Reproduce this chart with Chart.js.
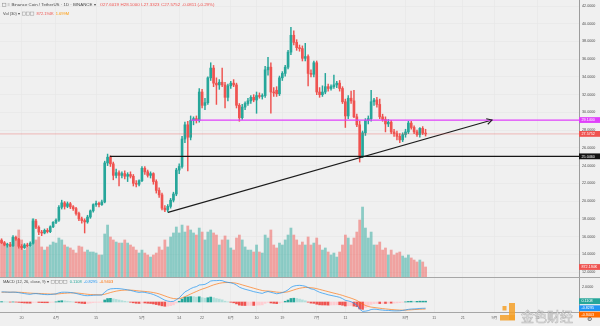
<!DOCTYPE html>
<html>
<head>
<meta charset="utf-8">
<script src="https://cdn.jsdelivr.net/npm/chart.js@4/dist/chart.umd.min.js"></script>
<style>
  html, body { margin: 0; padding: 0; background: #f0f0f0; }
  canvas { display: block; }
</style>
</head>
<body>
<canvas id="c" width="600" height="326"></canvas>
<script>
// BNB / USDT daily candles, 2019-03-13 .. 2019-08-08 (day 0 = 2019-04-01)
const firstDay = -19;

const opens = [
  15.55,15.30,15.05,15.10,14.95,15.90,15.70,14.90,14.75,15.05,
  14.95,15.25,17.75,17.05,16.50,16.40,16.70,16.55,17.10,17.60,
  17.85,19.30,19.80,19.40,19.70,19.35,19.15,18.60,18.00,17.80,
  17.65,18.20,18.90,19.60,19.75,19.60,19.90,24.30,24.95,24.20,
  22.90,23.20,22.90,23.10,22.80,23.00,22.80,22.00,21.90,22.30,
  23.70,23.30,22.90,23.10,22.20,21.20,20.70,19.20,19.00,19.40,
  20.10,20.80,23.50,23.90,27.00,28.60,27.20,29.10,29.30,29.10,
  32.30,30.80,31.10,33.90,35.00,33.30,33.10,33.40,33.10,31.70,
  33.00,33.30,33.10,30.80,29.40,30.60,31.00,31.30,31.70,31.40,
  31.90,31.80,31.90,34.80,35.10,32.30,32.50,32.10,33.90,34.40,
  35.10,36.80,38.70,37.90,37.30,37.20,36.10,36.30,34.40,34.30,
  35.60,32.30,32.00,32.30,32.90,32.70,32.90,33.10,33.30,32.70,
  31.20,29.60,31.60,31.30,29.50,28.60,25.10,27.70,29.10,29.30,
  31.20,31.40,30.90,29.50,29.20,28.70,28.90,27.80,27.60,27.30,
  26.90,27.50,27.80,28.80,28.30,27.80,27.50,28.20,27.6019
];
const highs = [
  15.75,15.45,15.25,15.35,16.10,16.05,15.80,15.10,15.20,15.25,
  15.40,18.00,17.95,17.20,16.70,16.85,16.90,17.20,17.70,18.00,
  19.50,20.10,19.95,19.90,19.85,19.50,19.30,18.75,18.20,18.00,
  18.40,19.00,19.70,20.00,19.90,20.10,24.50,25.30,25.10,24.40,
  23.60,23.40,23.30,23.40,23.20,23.30,23.00,22.30,22.40,23.90,
  23.90,23.50,23.30,23.20,22.40,21.50,20.90,19.50,19.60,20.30,
  21.00,23.70,24.20,27.30,28.90,29.00,29.60,29.50,29.60,32.70,
  32.60,31.60,34.00,35.60,35.30,33.90,33.70,35.00,33.40,33.20,
  33.50,33.70,33.30,31.00,30.90,31.20,31.60,31.90,32.00,32.30,
  32.20,32.10,35.20,36.20,35.60,32.80,32.90,34.10,34.60,35.30,
  37.00,39.60,39.20,38.20,37.60,37.50,37.80,36.50,34.80,35.80,
  35.80,32.80,33.00,34.40,33.20,33.10,34.20,33.50,33.60,32.90,
  31.50,31.90,32.40,32.50,29.80,29.00,27.90,29.30,29.60,32.50,
  31.60,31.70,31.50,29.80,29.50,29.20,29.10,28.10,27.90,27.60,
  27.70,28.10,29.00,29.00,28.50,28.00,28.30,28.40,28.10
];
const lows = [
  15.20,14.95,14.80,14.85,14.90,15.55,14.70,14.55,14.65,14.85,
  14.90,15.15,16.90,16.20,16.10,16.30,16.40,16.45,17.00,17.45,
  17.70,19.10,19.10,19.25,19.15,18.95,18.40,17.80,17.50,16.40,
  17.50,18.05,18.75,19.40,19.35,19.50,19.80,24.00,23.90,22.40,
  22.60,21.70,22.60,22.50,22.20,22.60,21.70,21.60,21.70,22.20,
  23.00,22.70,22.60,21.90,20.90,20.40,19.00,18.80,18.75,19.20,
  19.90,20.60,23.10,23.70,26.60,23.40,26.90,28.60,28.80,28.90,
  30.50,30.30,30.90,33.60,32.90,30.90,32.60,32.90,30.50,31.30,
  32.70,32.90,30.50,29.00,29.20,30.30,30.80,31.00,31.20,29.90,
  31.60,31.50,31.70,34.20,29.90,31.80,31.80,31.90,33.60,34.10,
  34.90,36.50,37.60,37.00,36.90,35.80,35.80,33.00,34.00,34.00,
  32.00,31.70,31.80,32.10,32.40,32.50,32.70,32.80,32.40,31.00,
  28.30,29.30,31.00,29.40,28.40,24.40,24.90,27.40,28.70,29.00,
  30.80,30.60,29.30,29.00,27.80,28.40,27.60,27.30,26.90,26.60,
  26.70,27.20,27.60,28.10,27.60,27.30,27.20,27.50,27.3323
];
const closes = [
  15.30,15.05,15.10,14.95,15.90,15.70,14.90,14.75,15.05,14.95,
  15.25,17.75,17.05,16.50,16.40,16.70,16.55,17.10,17.60,17.85,
  19.30,19.80,19.40,19.70,19.35,19.15,18.60,18.00,17.80,17.65,
  18.20,18.90,19.60,19.75,19.60,19.90,24.30,24.95,24.20,22.90,
  23.20,22.90,23.10,22.80,23.00,22.80,22.00,21.90,22.30,23.70,
  23.30,22.90,23.10,22.20,21.20,20.70,19.20,19.00,19.40,20.10,
  20.80,23.50,23.90,27.00,28.60,27.20,29.10,29.30,29.10,32.30,
  30.80,31.10,33.90,35.00,33.30,33.10,33.40,33.10,31.70,33.00,
  33.30,33.10,30.80,29.40,30.60,31.00,31.30,31.70,31.40,31.90,
  31.80,31.90,34.80,35.10,32.30,32.20,32.10,33.90,34.40,35.10,
  36.80,38.70,37.90,37.30,37.20,36.10,36.30,34.40,34.30,35.60,
  32.30,32.00,32.30,32.90,32.70,32.90,33.10,33.30,32.70,31.20,
  29.60,31.60,31.30,29.50,28.60,25.10,27.70,29.10,29.30,31.20,
  31.40,30.90,29.50,29.20,28.70,28.90,27.80,27.60,27.30,26.90,
  27.50,27.80,28.80,28.30,27.80,27.50,28.20,27.6563,27.5752
];
// volume, thousands of BNB
const volumes = [
  3230,2960,2790,2700,3490,3230,4100,3230,2350,2620,
  2620,5060,3230,3490,2620,2350,2620,2790,3050,2960,
  3400,3230,2790,2620,2530,2350,2090,2700,2620,2180,
  2350,2180,2180,2090,1920,1920,3750,4530,3490,3230,
  3050,2960,2960,3230,2960,2790,2620,2350,2090,2350,
  2090,1920,1740,1920,2090,2620,2350,3230,2620,3490,
  3840,4360,3840,4530,3920,4450,4100,3840,3660,4270,
  3920,3230,3920,4100,3840,3660,2790,3230,3580,3230,
  2530,2350,3400,3660,3230,2620,2350,2350,2180,2790,
  2180,2090,3660,3400,4100,2790,2530,2960,2790,3230,
  3660,4270,3660,3230,2790,3050,2790,3490,2790,2960,
  3400,2790,2350,2530,2180,1920,2090,1740,2180,2790,
  3660,3400,2790,3400,3920,4970,6100,4270,3400,3920,
  2790,2790,3050,2350,2530,1920,2350,1920,2090,2180,
  1830,1660,1920,1660,1480,1310,1480,1310,872.194
];
// MACD (12, 26, close, 9)
const macdLine = [
  1.35,1.34,1.32,1.30,1.32,1.30,1.25,1.18,1.12,1.06,
  1.02,1.10,1.12,1.08,1.03,1.00,0.98,1.00,1.04,1.08,
  1.22,1.30,1.31,1.30,1.27,1.22,1.14,1.04,0.95,0.86,
  0.84,0.86,0.90,0.92,0.92,0.94,1.30,1.60,1.75,1.78,
  1.80,1.78,1.74,1.68,1.62,1.55,1.45,1.35,1.28,1.32,
  1.28,1.20,1.12,1.00,0.84,0.66,0.44,0.24,0.12,0.06,
  0.08,0.30,0.55,0.95,1.35,1.55,1.78,1.95,2.05,2.27,
  2.30,2.35,2.55,2.80,2.85,2.85,2.88,2.85,2.70,2.62,
  2.56,2.45,2.25,1.98,1.82,1.70,1.60,1.50,1.38,1.30,
  1.22,1.15,1.30,1.40,1.30,1.20,1.10,1.15,1.25,1.40,
  1.62,1.95,2.12,2.20,2.22,2.18,2.10,1.92,1.75,1.68,
  1.48,1.30,1.18,1.08,0.96,0.88,0.80,0.72,0.62,0.45,
  0.22,0.14,0.04,-0.18,-0.42,-0.95,-1.25,-1.22,-1.15,-1.00,
  -0.95,-0.98,-1.04,-1.08,-1.12,-1.12,-1.16,-1.18,-1.18,-1.17,
  -1.12,-1.06,-0.98,-0.94,-0.92,-0.90,-0.86,-0.84,-0.8295
];
const signalLine = [
  1.30,1.31,1.31,1.31,1.31,1.31,1.30,1.28,1.25,1.21,
  1.18,1.16,1.15,1.14,1.12,1.10,1.08,1.06,1.06,1.06,
  1.09,1.13,1.16,1.19,1.21,1.21,1.20,1.17,1.13,1.08,
  1.03,1.00,0.98,0.97,0.96,0.96,1.03,1.14,1.26,1.36,
  1.45,1.51,1.56,1.58,1.59,1.58,1.56,1.52,1.47,1.44,
  1.41,1.37,1.32,1.26,1.18,1.08,0.95,0.81,0.67,0.55,
  0.46,0.43,0.45,0.55,0.71,0.88,1.06,1.24,1.40,1.57,
  1.72,1.84,1.98,2.14,2.28,2.39,2.49,2.56,2.59,2.60,
  2.59,2.56,2.50,2.40,2.28,2.17,2.06,1.95,1.84,1.73,
  1.63,1.53,1.48,1.46,1.43,1.38,1.32,1.29,1.28,1.30,
  1.36,1.48,1.61,1.73,1.83,1.90,1.94,1.94,1.90,1.86,
  1.78,1.68,1.58,1.48,1.38,1.28,1.18,1.09,0.99,0.88,
  0.75,0.63,0.51,0.37,0.21,-0.02,-0.27,-0.46,-0.60,-0.68,
  -0.73,-0.78,-0.83,-0.88,-0.92,-0.96,-1.00,-1.03,-1.06,-1.08,
  -1.09,-1.08,-1.06,-1.04,-1.01,-0.99,-0.97,-0.95,-0.9403
];
const macdHist = [
  0.05,0.03,0.01,-0.01,0.01,-0.01,-0.05,-0.10,-0.13,-0.15,
  -0.16,-0.06,-0.03,-0.06,-0.09,-0.10,-0.10,-0.06,-0.02,0.02,
  0.13,0.17,0.15,0.11,0.06,0.01,-0.06,-0.13,-0.18,-0.22,
  -0.19,-0.14,-0.08,-0.05,-0.04,-0.02,0.27,0.46,0.49,0.42,
  0.35,0.27,0.18,0.10,0.03,-0.03,-0.11,-0.17,-0.19,-0.12,
  -0.13,-0.17,-0.20,-0.26,-0.34,-0.42,-0.51,-0.57,-0.55,-0.49,
  -0.38,-0.13,0.10,0.40,0.64,0.67,0.72,0.71,0.65,0.70,
  0.58,0.51,0.57,0.66,0.57,0.46,0.39,0.29,0.11,0.02,
  -0.03,-0.11,-0.25,-0.42,-0.46,-0.47,-0.46,-0.45,-0.46,-0.43,
  -0.41,-0.38,-0.18,-0.06,-0.13,-0.18,-0.22,-0.14,-0.03,0.10,
  0.26,0.47,0.51,0.47,0.39,0.28,0.16,-0.02,-0.15,-0.18,
  -0.30,-0.38,-0.40,-0.40,-0.42,-0.40,-0.38,-0.37,-0.37,-0.43,
  -0.53,-0.49,-0.47,-0.55,-0.63,-0.93,-0.98,-0.76,-0.55,-0.32,
  -0.22,-0.20,-0.21,-0.20,-0.20,-0.16,-0.16,-0.15,-0.12,-0.09,
  -0.03,0.02,0.08,0.10,0.09,0.09,0.11,0.11,0.1108
];

// time axis labels (day offsets from 2019-04-01)
const tickDays   = [-12, 0, 14, 30, 43, 51, 61, 70, 79, 91, 101, 122, 132, 142, 153, 168];
const tickLabels = ['20', '4月', '15', '5月', '14', '22', '6月', '10', '19', '7月', '11', '8月', '11', '21', '9月', '16'];
const priceTicks = [12, 14, 16, 18, 20, 22, 24, 26, 28, 30, 32, 34, 36, 38, 40, 42];
const macdTicks  = [2];

// drawn levels and trend line (day, price)
const supportLine    = { from: 18.8, price: 25.046 };
const resistanceLine = { from: 47, price: 29.14 };
const trendStart = { day: 39.1, price: 18.72 };
const trendEnd   = { day: 152.2, price: 29.14 };
const volumeMA = '1.699M';

// visible ranges of the panes
const X_MIN = -19.546, X_MAX = 182.55;
const Y_MIN = 7.49, Y_MAX = 42.677;
const V_MIN = -3053, V_MAX = 24159;
const M_MIN = -1.333, M_MAX = 40.267;

const BG = '#f0f0f0';
const UP = '#26a69a', DOWN = '#ef5350';
const FONT = "'Liberation Sans', 'Noto Sans CJK SC', Arial, sans-serif";

const n = opens.length;
const last = n - 1;
const days = opens.map((_, i) => firstDay + i);
const rising = closes.map((c, i) => c >= opens[i]);
const candleColor = rising.map(u => u ? UP : DOWN);
const volumeColor = rising.map(u => u ? 'rgba(38,166,154,0.5)' : 'rgba(239,83,80,0.5)');
const histColor = macdHist.map((h, i) => {
  const prev = i > 0 ? macdHist[i - 1] : h;
  if (h >= 0) return h >= prev ? '#26a69a' : '#b2dfdb';
  return h <= prev ? '#ef5350' : '#ffcdd2';
});

const tagFont = '3.7px ' + FONT;

function drawTag(ctx, y, text, bg, fg) {
  ctx.fillStyle = bg;
  ctx.fillRect(579, y - 2.9, 21, 5.8);
  ctx.fillStyle = fg;
  ctx.font = tagFont;
  ctx.textAlign = 'left';
  ctx.textBaseline = 'middle';
  ctx.fillText(text, 581.5, y + 0.2);
}

function drawRun(ctx, x, y, parts, size) {
  ctx.font = size + 'px ' + FONT;
  ctx.textBaseline = 'middle';
  ctx.textAlign = 'left';
  for (const [text, color, gap] of parts) {
    ctx.fillStyle = color;
    ctx.fillText(text, x, y);
    x += ctx.measureText(text).width + (gap || 0);
  }
  return x;
}

function boxes(ctx, x, y, count) {
  ctx.strokeStyle = '#9a9a9a';
  ctx.lineWidth = 0.5;
  for (let k = 0; k < count; k++) {
    ctx.strokeRect(x + k * 4.2 + 0.25, y - 1.6, 3.2, 3.2);
  }
  return x + count * 4.2;
}

const panes = {
  id: 'panes',
  beforeDraw(chart) {
    const ctx = chart.ctx;
    ctx.save();
    ctx.fillStyle = BG;
    ctx.fillRect(0, 0, chart.width, chart.height);
    ctx.restore();
  },
  afterDraw(chart) {
    const ctx = chart.ctx;
    const sy = chart.scales.y, sv = chart.scales.yv, sm = chart.scales.ym;
    ctx.save();

    // arrow head at the end of the trend line
    const meta = chart.getDatasetMeta(chart.data.datasets.findIndex(d => d.label === 'trend'));
    const p0 = meta.data[0], p1 = meta.data[1];
    const a = Math.atan2(p1.y - p0.y, p1.x - p0.x);
    ctx.strokeStyle = '#1c1c1c';
    ctx.lineWidth = 1.1;
    ctx.beginPath();
    ctx.moveTo(p1.x - 6 * Math.cos(a - 0.5), p1.y - 6 * Math.sin(a - 0.5));
    ctx.lineTo(p1.x, p1.y);
    ctx.lineTo(p1.x - 6 * Math.cos(a + 0.5), p1.y - 6 * Math.sin(a + 0.5));
    ctx.stroke();

    // pane separator
    const sepY = Math.round(sv.getPixelForValue(0)) + 0.5;
    ctx.strokeStyle = '#a6a6a6';
    ctx.lineWidth = 1;
    ctx.beginPath();
    ctx.moveTo(0, sepY);
    ctx.lineTo(600, sepY);
    ctx.stroke();

    // MACD scale labels
    ctx.fillStyle = '#4d4d4d';
    ctx.font = tagFont;
    ctx.textBaseline = 'middle';
    ctx.textAlign = 'left';
    for (const t of macdTicks) ctx.fillText(t.toFixed(4), 582, sm.getPixelForValue(t));

    // price axis tags
    drawTag(ctx, sy.getPixelForValue(resistanceLine.price), resistanceLine.price.toFixed(4), '#e040fb', '#ffffff');
    drawTag(ctx, sy.getPixelForValue(closes[last]), closes[last].toFixed(4), DOWN, '#ffffff');
    drawTag(ctx, sy.getPixelForValue(supportLine.price), supportLine.price.toFixed(4), '#131313', '#ffffff');
    drawTag(ctx, sv.getPixelForValue(volumes[last]), volumes[last].toFixed(3) + 'K', DOWN, '#ffffff');

    // MACD tags, pushed apart when they collide
    const mtags = [
      [macdHist[last], '#26a69a'],
      [macdLine[last], '#2196f3'],
      [signalLine[last], '#ff6d00']
    ];
    let prevY = -100;
    for (const [v, col] of mtags) {
      let y = sm.getPixelForValue(v);
      if (y < prevY + 6.4) y = prevY + 6.4;
      drawTag(ctx, y, v.toFixed(4), col, '#ffffff');
      prevY = y;
    }

    // header lines
    const chg = closes[last] - closes[last - 1];
    const pct = chg / closes[last - 1] * 100;
    ctx.strokeStyle = '#8a8a8a';
    ctx.lineWidth = 0.5;
    ctx.strokeRect(2.5, 3.2, 3.4, 3.4);
    let x = drawRun(ctx, 7.5, 5.2, [['≡', '#7a7a7a', 1.4]], 4.4);
    x = drawRun(ctx, x, 5.2, [['Binance Coin / TetherUS · 1D · BINANCE', '#4a4a4a', 1.2], ['▾', '#4a4a4a', 4]], 4.4);
    drawRun(ctx, x, 5.2, [
      ['O' + opens[last].toFixed(4), DOWN, 1.6],
      ['H' + highs[last].toFixed(4), DOWN, 1.6],
      ['L' + lows[last].toFixed(4), DOWN, 1.6],
      ['C' + closes[last].toFixed(4), DOWN, 1.6],
      [chg.toFixed(4) + ' (' + pct.toFixed(2) + '%)', DOWN, 0]
    ], 4.4);

    x = drawRun(ctx, 3, 13.6, [['Vol (30)', '#4a4a4a', 1.2], ['▾', '#4a4a4a', 2]], 4.0);
    x = boxes(ctx, x, 13.6, 3) + 2;
    drawRun(ctx, x, 13.6, [[volumes[last].toFixed(3) + 'K', DOWN, 2], [volumeMA, '#ff9800', 0]], 4.0);

    const my = sepY + 4.5;
    x = drawRun(ctx, 3, my, [['MACD (12, 26, close, 9)', '#4a4a4a', 1.2], ['▾', '#4a4a4a', 2]], 4.0);
    x = boxes(ctx, x, my, 4) + 2;
    drawRun(ctx, x, my, [
      [macdHist[last].toFixed(4), '#26a69a', 2.2],
      [macdLine[last].toFixed(4), '#2196f3', 2.2],
      [signalLine[last].toFixed(4), '#ff6d00', 0]
    ], 4.0);

    // watermark
    ctx.fillStyle = 'rgba(245,160,40,0.85)';
    ctx.fillRect(509, 303, 6, 17);
    ctx.fillRect(500, 315, 15, 5.5);
    ctx.fillRect(502.5, 306, 4, 4.5);
    ctx.font = '13px "Noto Sans CJK SC"';
    ctx.textBaseline = 'alphabetic';
    ctx.textAlign = 'left';
    ctx.lineWidth = 0.7;
    ctx.strokeStyle = 'rgba(150,150,150,0.6)';
    ctx.fillStyle = 'rgba(255,255,255,0.8)';
    ctx.fillText('金色财经', 521, 321);
    ctx.strokeText('金色财经', 521, 321);

    // settings glyph in the corner
    ctx.fillStyle = '#555555';
    ctx.font = '6px "DejaVu Sans"';
    ctx.textBaseline = 'middle';
    ctx.fillText('⚙', 587, 319.5);

    ctx.restore();
  }
};

const xy = arr => days.map((d, i) => ({ x: d, y: arr[i] }));

new Chart(document.getElementById('c'), {
  type: 'bar',
  data: {
    datasets: [
      {
        label: 'last', type: 'line', yAxisID: 'y', order: 1,
        data: [{ x: X_MIN, y: closes[last] }, { x: X_MAX, y: closes[last] }],
        borderColor: 'rgba(239,83,80,0.45)', borderWidth: 0.8, pointRadius: 0
      },
      {
        label: 'support', type: 'line', yAxisID: 'y', order: 1,
        data: [{ x: supportLine.from, y: supportLine.price }, { x: X_MAX, y: supportLine.price }],
        borderColor: '#161616', borderWidth: 1.2, pointRadius: 0
      },
      {
        label: 'resistance', type: 'line', yAxisID: 'y', order: 1,
        data: [{ x: resistanceLine.from, y: resistanceLine.price }, { x: X_MAX, y: resistanceLine.price }],
        borderColor: '#e040fb', borderWidth: 1.2, pointRadius: 0
      },
      {
        label: 'trend', type: 'line', yAxisID: 'y', order: 1,
        data: [{ x: trendStart.day, y: trendStart.price }, { x: trendEnd.day, y: trendEnd.price }],
        borderColor: '#1c1c1c', borderWidth: 1.2, pointRadius: 0
      },
      {
        label: 'body', yAxisID: 'y', order: 2, grouped: false,
        data: days.map((d, i) => ({ x: d, y: [opens[i], closes[i]] })),
        backgroundColor: candleColor, barThickness: 2, minBarLength: 0.8, borderWidth: 0
      },
      {
        label: 'wick', yAxisID: 'y', order: 3, grouped: false,
        data: days.map((d, i) => ({ x: d, y: [lows[i], highs[i]] })),
        backgroundColor: candleColor, barThickness: 0.8, borderWidth: 0
      },
      {
        label: 'macd', type: 'line', yAxisID: 'ym', order: 5,
        data: xy(macdLine), borderColor: 'rgba(33,150,243,0.8)', borderWidth: 0.9, pointRadius: 0
      },
      {
        label: 'signal', type: 'line', yAxisID: 'ym', order: 5,
        data: xy(signalLine), borderColor: 'rgba(255,109,0,0.7)', borderWidth: 0.9, pointRadius: 0
      },
      {
        label: 'hist', yAxisID: 'ym', order: 9, grouped: false,
        data: xy(macdHist), backgroundColor: histColor, barThickness: 2, borderWidth: 0
      },
      {
        label: 'volume', yAxisID: 'yv', order: 10, grouped: false,
        data: xy(volumes), backgroundColor: volumeColor, barThickness: 2.1, borderWidth: 0
      }
    ]
  },
  options: {
    responsive: false,
    animation: false,
    devicePixelRatio: 1,
    layout: { padding: 0 },
    plugins: { legend: { display: false }, tooltip: { enabled: false }, title: { display: false } },
    scales: {
      x: {
        type: 'linear', position: 'bottom', min: X_MIN, max: X_MAX, offset: false,
        grid: { color: '#e7e7e7', lineWidth: 0.7, drawTicks: false, offset: false },
        border: { display: true, color: '#a6a6a6' },
        ticks: {
          autoSkip: false, maxRotation: 0, padding: 4, color: '#666666',
          font: { family: FONT, size: 3.8 },
          callback: v => { const k = tickDays.indexOf(v); return k >= 0 ? tickLabels[k] : ''; }
        },
        afterBuildTicks: s => { s.ticks = tickDays.map(v => ({ value: v })); },
        afterFit: s => { s.height = 14; s.paddingLeft = 0; s.paddingRight = 0; }
      },
      y: {
        type: 'linear', position: 'right', min: Y_MIN, max: Y_MAX,
        grid: { color: '#e7e7e7', lineWidth: 0.7, drawTicks: false },
        border: { display: true, color: '#9c9c9c' },
        ticks: { padding: 3, color: '#4d4d4d', font: { family: FONT, size: 3.7 }, callback: v => Number(v).toFixed(4) },
        afterBuildTicks: s => { s.ticks = priceTicks.map(v => ({ value: v })); },
        afterFit: s => { s.width = 21; s.paddingTop = 0; s.paddingBottom = 0; }
      },
      yv: { type: 'linear', display: false, min: V_MIN, max: V_MAX },
      ym: { type: 'linear', display: false, min: M_MIN, max: M_MAX }
    }
  },
  plugins: [panes]
});
</script>
</body>
</html>
